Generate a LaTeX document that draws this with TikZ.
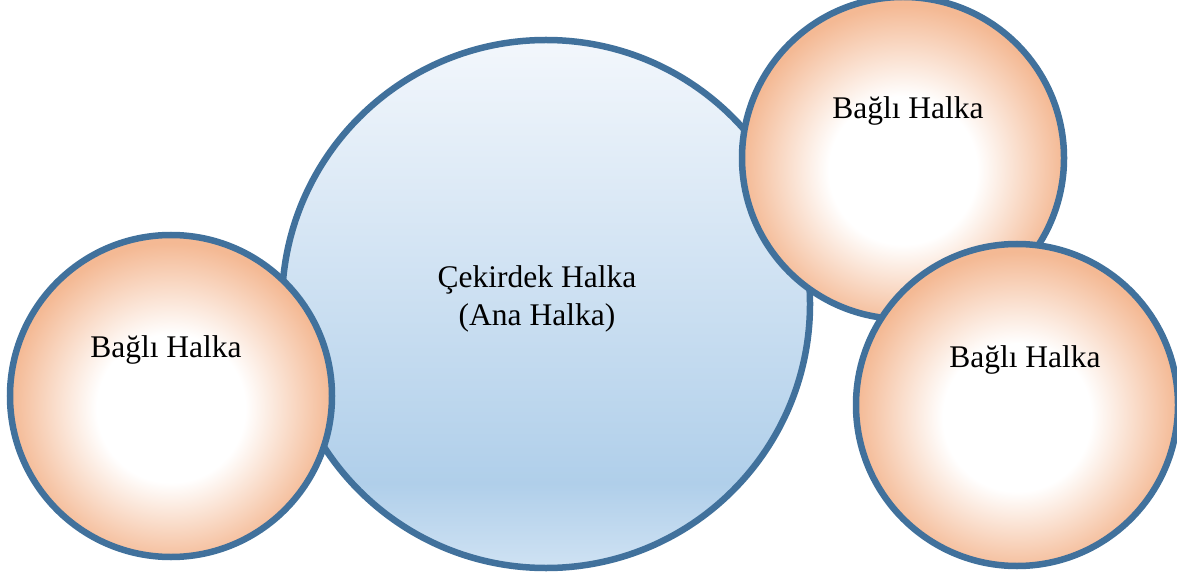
\documentclass[tikz,border=0pt]{standalone}
\usepackage{fontspec}
\setmainfont{Liberation Serif}
\usepackage{xcolor}
\usepackage{tikz}
\definecolor{ringblue}{RGB}{65,113,156}
\definecolor{ringpeach}{RGB}{244,185,148}
\definecolor{coretop}{RGB}{243,247,252}
\definecolor{coremid}{RGB}{176,207,234}
\definecolor{corelow}{RGB}{207,226,243}
\pgfdeclareradialshading{linkglow}{\pgfpoint{0bp}{-2.5bp}}{color(0bp)=(white); color(11.5bp)=(white); color(25bp)=(ringpeach); color(50bp)=(ringpeach)}
\pgfdeclareverticalshading{coreglow}{100bp}{color(0bp)=(corelow); color(25bp)=(corelow); color(33bp)=(coremid); color(75bp)=(coretop); color(100bp)=(coretop)}

\begin{document}
\begin{tikzpicture}[
    x=1pt, y=-1pt,
    corering/.style={circle, draw=ringblue, line width=6.5pt, shade, shading=coreglow, minimum size=528pt, inner sep=0pt},
    linkring/.style={circle, draw=ringblue, line width=6.5pt, shade, shading=linkglow, minimum size=322pt, inner sep=0pt},
    ringtext/.style={font=\fontsize{31.5}{38}\selectfont, align=center, inner sep=0pt}
]
    \useasboundingbox (0,0) rectangle (1177,577);

    \node[corering] (core) at (546,304) {};
    \node[linkring] (linkleft) at (171,396) {};
    \node[linkring] (linktop) at (903,158) {};
    \node[linkring] (linkbottom) at (1017,405) {};

    \node[ringtext] (coretext) at ([xshift=-9pt,yshift=5pt]core.center) {Çekirdek Halka\\(Ana Halka)};
    \node[ringtext, anchor=base] (lefttext) at ([xshift=-5pt,yshift=39pt]linkleft.center) {Bağlı Halka};
    \node[ringtext, anchor=base] (toptext) at ([xshift=5pt,yshift=39pt]linktop.center) {Bağlı Halka};
    \node[ringtext, anchor=base] (bottomtext) at ([xshift=8pt,yshift=38pt]linkbottom.center) {Bağlı Halka};
\end{tikzpicture}
\end{document}
